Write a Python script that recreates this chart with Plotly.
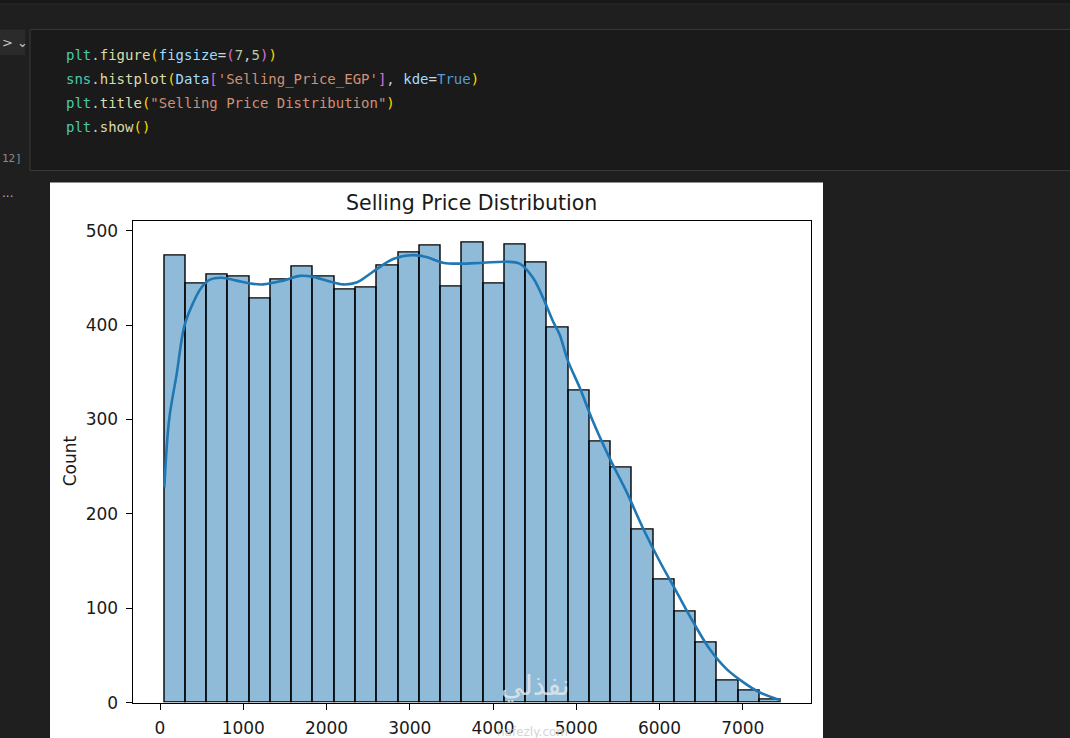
import plotly.graph_objects as go

# referans boyutu (px) ve gerçek şekil yüksekliği
W, H = 1070, 738
FIG_H = 750

# histogram verisi
bin_start = 52
bin_width = 255.4
counts = [473, 444, 453, 451, 428, 448, 462, 451, 438, 440, 463, 477, 484, 441, 487,
          444, 485, 466, 397, 330, 277, 249, 183, 130, 96, 64, 23, 13, 3]

# KDE eğrisi
kde_x = [52, 110, 200, 290, 380, 500, 600, 740, 920, 1080, 1240, 1480, 1680, 1840, 2040,
         2200, 2360, 2520, 2600, 2800, 3040, 3200, 3400, 3600, 3880, 4160, 4320, 4480,
         4600, 4720, 4800, 4900, 5040, 5200, 5400, 5600, 5800, 6000, 6200, 6400, 6600,
         6800, 7000, 7200, 7450]
kde_y = [228, 300, 348, 398, 420, 440, 448, 450, 447, 444, 443, 447, 452, 451, 446,
         443, 445, 454, 459, 470, 474, 472, 466, 465, 466, 467, 465, 450,
         429, 404, 390, 362, 334, 298, 259, 224, 185, 150, 118, 86, 57,
         36, 22, 11, 2.5]

x_ticks = [0, 1000, 2000, 3000, 4000, 5000, 6000, 7000]
y_ticks = [0, 100, 200, 300, 400, 500]

centers = [bin_start + bin_width * (i + 0.5) for i in range(len(counts))]


def px(x):
    return x / W


def py(y):
    return 1 - y / H


fig = go.Figure()
fig.add_trace(go.Bar(
    x=centers, y=counts, width=bin_width,
    marker=dict(color="rgba(31,119,180,0.5)", line=dict(color="black", width=1.4)),
    hoverinfo="x+y", showlegend=False,
))
fig.add_trace(go.Scatter(
    x=kde_x, y=kde_y, mode="lines", line=dict(color="#1f77b4", width=2.6, shape="spline"),
    showlegend=False,
))

# notebook arka planı
shapes = [
    dict(type="rect", x0=0, x1=1, y0=py(4), y1=1, fillcolor="#181818", line_width=0),
    dict(type="line", x0=0, x1=1, y0=py(4), y1=py(4), line=dict(color="#2b2b2b", width=1)),
    dict(type="rect", x0=px(30), x1=px(1075), y0=py(170), y1=py(29.5),
         fillcolor="#1a1a1a", line=dict(color="#3a3a3a", width=1)),
    dict(type="rect", x0=px(-5), x1=px(25), y0=py(55), y1=py(29.5),
         fillcolor="#2b2b2b", line_width=0),
    dict(type="rect", x0=px(50), x1=px(823), y0=0, y1=py(182),
         fillcolor="white", line_width=0),
]
for s in shapes:
    s.update(xref="paper", yref="paper", layer="below")

C = dict(mod="#4ec9b0", dot="#cccccc", fn="#dcdcaa", p1="#ffd700", var="#9cdcfe",
         op="#d4d4d4", p2="#da70d6", num="#b5cea8", s="#ce9178", kw="#569cd6")


def sp(t, c):
    return f'<span style="color:{C[c]}">{t}</span>'


code_lines = [
    sp("plt", "mod") + sp(".", "dot") + sp("figure", "fn") + sp("(", "p1") + sp("figsize", "var")
    + sp("=", "op") + sp("(", "p2") + sp("7", "num") + sp(",", "dot") + sp("5", "num")
    + sp(")", "p2") + sp(")", "p1"),
    sp("sns", "mod") + sp(".", "dot") + sp("histplot", "fn") + sp("(", "p1") + sp("Data", "var")
    + sp("[", "p2") + sp("'Selling_Price_EGP'", "s") + sp("]", "p2") + sp(", ", "dot")
    + sp("kde", "var") + sp("=", "op") + sp("True", "kw") + sp(")", "p1"),
    sp("plt", "mod") + sp(".", "dot") + sp("title", "fn") + sp("(", "p1")
    + sp('"Selling Price Distribution"', "s") + sp(")", "p1"),
    sp("plt", "mod") + sp(".", "dot") + sp("show", "fn") + sp("()", "p1"),
]
code_y = [55, 79, 103, 127]

annotations = []
for line, yy in zip(code_lines, code_y):
    annotations.append(dict(text=line, x=px(64), y=py(yy), xanchor="left", yanchor="middle",
                            font=dict(family="DejaVu Sans Mono", size=14)))
annotations += [
    dict(text="&gt; ⌄", x=px(0), y=py(42), xanchor="left", yanchor="middle",
         font=dict(family="DejaVu Sans", size=13, color="#c8c8c8")),
    dict(text="12]", x=px(0), y=py(158), xanchor="left", yanchor="middle",
         font=dict(family="DejaVu Sans Mono", size=11, color="#8a8a8a")),
    dict(text="...", x=px(0), y=py(192), xanchor="left", yanchor="middle",
         font=dict(family="DejaVu Sans", size=12, color="#b0b0b0")),
    dict(text="Selling Price Distribution", x=px(471.7), y=py(202), xanchor="center",
         yanchor="middle", font=dict(family="DejaVu Sans", size=20.5, color="#1a1a1a")),
    dict(text="Count", x=px(70), y=py(460), xanchor="center", yanchor="middle",
         textangle=-90, font=dict(family="DejaVu Sans", size=17, color="#1a1a1a")),
    # filigran
    dict(text="نفذلي", x=px(535), y=py(684), xanchor="center", yanchor="middle",
         font=dict(family="DejaVu Sans", size=28, color="rgba(235,235,235,0.75)")),
    dict(text="nafezly.com", x=px(532), y=py(730), xanchor="center", yanchor="middle",
         font=dict(family="DejaVu Sans", size=12, color="rgba(200,200,200,0.8)")),
]
for a in annotations:
    a.update(xref="paper", yref="paper", showarrow=False)

axis_common = dict(
    showline=True, linecolor="black", linewidth=1.2, mirror=True,
    ticks="outside", ticklen=6, tickwidth=1.2, tickcolor="black",
    showgrid=False, zeroline=False,
    tickfont=dict(family="DejaVu Sans", size=17, color="#1a1a1a"),
    ticklabelstandoff=4,
)

fig.update_layout(
    width=W, height=FIG_H, margin=dict(l=0, r=0, t=0, b=0),
    paper_bgcolor="#1f1f1f", plot_bgcolor="white",
    bargap=0, shapes=shapes, annotations=annotations,
    xaxis=dict(domain=[px(132.7), px(810.7)], range=[-328, 7816],
               tickvals=x_ticks, **axis_common),
    yaxis=dict(domain=[py(700.7), py(220)], range=[0, 510.6],
               tickvals=y_ticks, **axis_common),
)

fig.write_html("out.html", config={"displayModeBar": False},
               post_script="document.body.style.margin='0';")
